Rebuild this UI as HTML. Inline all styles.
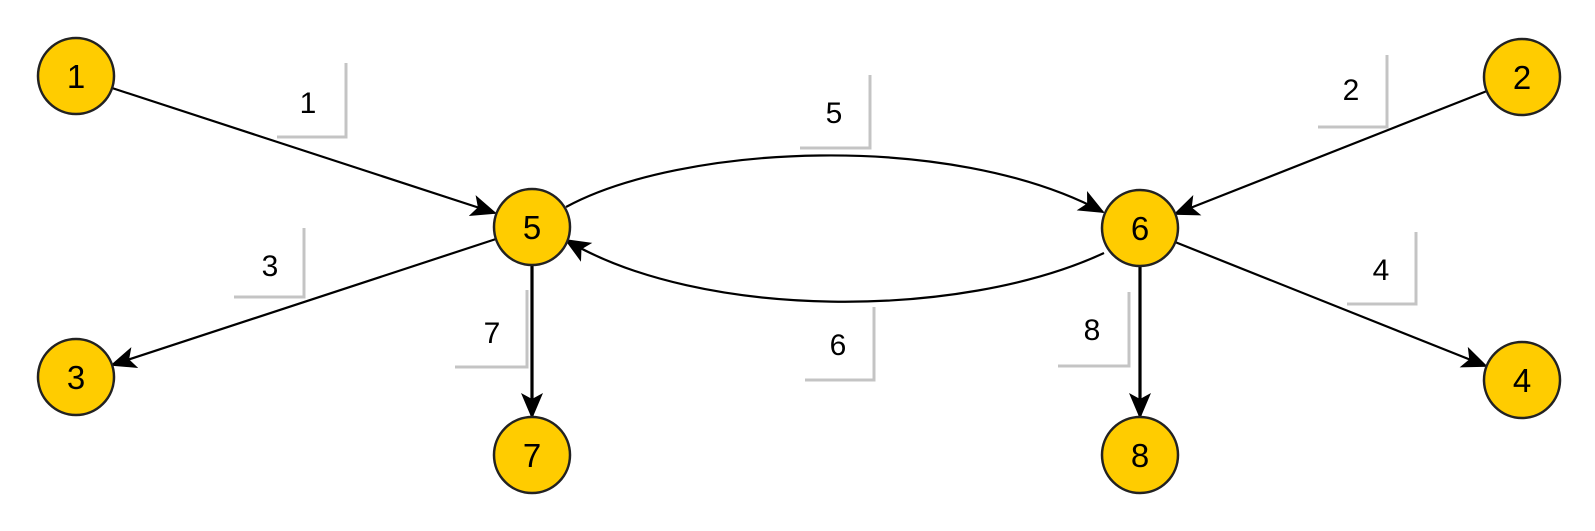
<!DOCTYPE html>
<html><head><meta charset="utf-8"><style>
html,body{margin:0;padding:0;background:#fff;}
svg{display:block;}
text{font-family:"Liberation Sans",Arial,sans-serif;}
</style></head><body>
<svg width="1595" height="531" viewBox="0 0 1595 531" xmlns="http://www.w3.org/2000/svg">
<defs>
<marker id="b" markerWidth="26" markerHeight="26" refX="24" refY="13" orient="auto" markerUnits="userSpaceOnUse" viewBox="0 0 26 26">
<path d="M0,2 L26,13 L0,24 L6,13 Z" fill="#000"/>
</marker>
</defs>
<g stroke="#c4c4c4" stroke-width="3" fill="none">
<path d="M346,63 V137 H277"/>
<path d="M870,75 V148 H800"/>
<path d="M1387,55 V127 H1318"/>
<path d="M304,228 V297 H234"/>
<path d="M527,290 V367 H455"/>
<path d="M874,307 V380 H805"/>
<path d="M1129,292 V366 H1058"/>
<path d="M1416,232 V304 H1347"/>
</g>
<g stroke="#000" stroke-width="2.2" fill="none">
<line x1="112" y1="88" x2="495" y2="213" marker-end="url(#b)"/>
<line x1="1487" y1="91" x2="1175" y2="214" marker-end="url(#b)"/>
<line x1="496" y1="239" x2="112" y2="365" marker-end="url(#b)"/>
<line x1="1175" y1="242" x2="1486" y2="366" marker-end="url(#b)"/>
<path d="M566,207 C680,145 950,130 1103,212" marker-end="url(#b)"/>
<path d="M1104,253 C960,320 700,320 566,240" marker-end="url(#b)"/>
<line x1="532" y1="265" x2="532" y2="417" stroke-width="3.2" marker-end="url(#b)"/>
<line x1="1140" y1="266" x2="1140" y2="417" stroke-width="3.2" marker-end="url(#b)"/>
</g>
<g fill="#ffcc00" stroke="#222" stroke-width="2.5">
<circle cx="76" cy="76" r="38"/>
<circle cx="1522" cy="77" r="38"/>
<circle cx="532" cy="227" r="38"/>
<circle cx="1140" cy="228" r="38"/>
<circle cx="76" cy="377" r="38"/>
<circle cx="1522" cy="380" r="38"/>
<circle cx="532" cy="455" r="38"/>
<circle cx="1140" cy="455" r="38"/>
</g>
<g font-size="33" text-anchor="middle" fill="#000">
<text x="76" y="88">1</text>
<text x="1522" y="89">2</text>
<text x="532" y="239">5</text>
<text x="1140" y="240">6</text>
<text x="76" y="389">3</text>
<text x="1522" y="392">4</text>
<text x="532" y="467">7</text>
<text x="1140" y="467">8</text>
</g>
<g font-size="30" text-anchor="middle" fill="#000">
<text x="308" y="113">1</text>
<text x="834" y="123">5</text>
<text x="1351" y="100">2</text>
<text x="270" y="276">3</text>
<text x="492" y="343">7</text>
<text x="838" y="355">6</text>
<text x="1092" y="340">8</text>
<text x="1381" y="280">4</text>
</g>
</svg>
</body></html>
